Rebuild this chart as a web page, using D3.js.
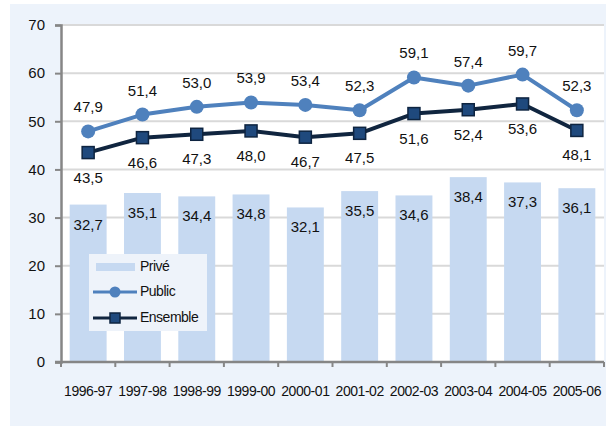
<!DOCTYPE html>
<html>
<head>
<meta charset="utf-8">
<script src="https://cdn.jsdelivr.net/npm/d3@7"></script>
<style>
  body { margin: 0; background: #fff; }
  svg { display: block; font-family: Arial, "Liberation Sans", sans-serif; }
</style>
</head>
<body>
<svg id="chart" width="606" height="427"></svg>
<script>
// data
var years = ["1996-97", "1997-98", "1998-99", "1999-00", "2000-01", "2001-02", "2002-03", "2003-04", "2004-05", "2005-06"];
var prive = [32.7, 35.1, 34.4, 34.8, 32.1, 35.5, 34.6, 38.4, 37.3, 36.1];
var publicVals = [47.9, 51.4, 53.0, 53.9, 53.4, 52.3, 59.1, 57.4, 59.7, 52.3];
var ensemble = [43.5, 46.6, 47.3, 48.0, 46.7, 47.5, 51.6, 52.4, 53.6, 48.1];
var yTicks = [0, 10, 20, 30, 40, 50, 60, 70];

var fmt = function(v) { return d3.format(".1f")(v).replace(".", ","); };

var svg = d3.select("#chart");

// panel background
svg.append("rect")
  .attr("x", 10).attr("y", 4)
  .attr("width", 596).attr("height", 422)
  .attr("fill", "#EDF3FB");

var plotL = 61, plotR = 604, plotT = 25, plotB = 362;

svg.append("rect")
  .attr("x", plotL).attr("y", plotT)
  .attr("width", plotR - plotL).attr("height", plotB - plotT)
  .attr("fill", "#fff");

var x = d3.scaleBand()
  .domain(years)
  .range([plotL, plotR])
  .paddingInner(0.32)
  .paddingOuter(0.16);

var xc = function(i) { return x(years[i]) + x.bandwidth() / 2; };

var y = d3.scaleLinear()
  .domain([0, 70])
  .range([plotB, plotT]);

// gridlines
svg.append("g")
  .selectAll("line")
  .data(yTicks.filter(function(d) { return d > 0; }))
  .enter()
  .append("line")
  .attr("x1", plotL).attr("x2", plotR)
  .attr("y1", function(d) { return y(d); })
  .attr("y2", function(d) { return y(d); })
  .attr("stroke", "#D9D9D9")
  .attr("stroke-width", 2);

// bars (Privé)
svg.append("g")
  .selectAll("rect")
  .data(prive)
  .enter()
  .append("rect")
  .attr("x", function(d, i) { return x(years[i]); })
  .attr("y", function(d) { return y(d); })
  .attr("width", x.bandwidth())
  .attr("height", function(d) { return plotB - y(d); })
  .attr("fill", "#C6D9F1");

svg.append("g")
  .selectAll("text")
  .data(prive)
  .enter()
  .append("text")
  .attr("x", function(d, i) { return xc(i); })
  .attr("y", function(d) { return y(d) + 21; })
  .attr("text-anchor", "middle")
  .attr("dominant-baseline", "middle")
  .attr("font-size", 15)
  .attr("fill", "#111")
  .text(fmt);

// y axis
var yAxis = svg.append("g")
  .attr("transform", "translate(" + plotL + ",0)")
  .call(d3.axisLeft(y).tickValues(yTicks).tickSize(6).tickPadding(10));
yAxis.select(".domain").attr("stroke", "#868686").attr("stroke-width", 2.5);
yAxis.selectAll(".tick line").attr("stroke", "#868686").attr("stroke-width", 2);
yAxis.selectAll(".tick text")
  .attr("font-size", 15)
  .attr("font-family", "Arial, 'Liberation Sans', sans-serif")
  .attr("fill", "#111");

// x axis
var xAxis = svg.append("g")
  .attr("transform", "translate(0," + plotB + ")")
  .call(d3.axisBottom(x).tickSize(0).tickPadding(24));
xAxis.select(".domain").remove();
xAxis.selectAll(".tick text")
  .attr("font-size", 14)
  .attr("letter-spacing", -0.45)
  .attr("font-family", "Arial, 'Liberation Sans', sans-serif")
  .attr("fill", "#111");

var boundaries = d3.range(years.length + 1).map(function(i) {
  return plotL + (plotR - plotL) * i / years.length;
});
svg.append("g")
  .selectAll("line")
  .data(boundaries)
  .enter()
  .append("line")
  .attr("x1", function(d) { return d; })
  .attr("x2", function(d) { return d; })
  .attr("y1", plotB).attr("y2", plotB + 5)
  .attr("stroke", "#868686")
  .attr("stroke-width", 2);
svg.append("line")
  .attr("x1", plotL - 6).attr("x2", plotR)
  .attr("y1", plotB).attr("y2", plotB)
  .attr("stroke", "#868686")
  .attr("stroke-width", 2.5);

var line = d3.line()
  .x(function(d, i) { return xc(i); })
  .y(function(d) { return y(d); });

// Public
svg.append("path")
  .datum(publicVals)
  .attr("d", line)
  .attr("fill", "none")
  .attr("stroke", "#4F81BD")
  .attr("stroke-width", 4)
  .attr("stroke-linejoin", "round");
svg.append("g")
  .selectAll("circle")
  .data(publicVals)
  .enter()
  .append("circle")
  .attr("cx", function(d, i) { return xc(i); })
  .attr("cy", function(d) { return y(d); })
  .attr("r", 7)
  .attr("fill", "#4F81BD");
svg.append("g")
  .selectAll("text")
  .data(publicVals)
  .enter()
  .append("text")
  .attr("x", function(d, i) { return xc(i); })
  .attr("y", function(d) { return y(d) - 23; })
  .attr("text-anchor", "middle")
  .attr("dominant-baseline", "middle")
  .attr("font-size", 15)
  .attr("fill", "#111")
  .text(fmt);

// Ensemble
svg.append("path")
  .datum(ensemble)
  .attr("d", line)
  .attr("fill", "none")
  .attr("stroke", "#10253F")
  .attr("stroke-width", 4)
  .attr("stroke-linejoin", "round");
svg.append("g")
  .selectAll("rect")
  .data(ensemble)
  .enter()
  .append("rect")
  .attr("x", function(d, i) { return xc(i) - 6; })
  .attr("y", function(d) { return y(d) - 6; })
  .attr("width", 12).attr("height", 12)
  .attr("fill", "#1F497D")
  .attr("stroke", "#0E2440")
  .attr("stroke-width", 1.5);
svg.append("g")
  .selectAll("text")
  .data(ensemble)
  .enter()
  .append("text")
  .attr("x", function(d, i) { return xc(i); })
  .attr("y", function(d) { return y(d) + 26; })
  .attr("text-anchor", "middle")
  .attr("dominant-baseline", "middle")
  .attr("font-size", 15)
  .attr("fill", "#111")
  .text(fmt);

// legend
var legend = svg.append("g");
legend.append("rect")
  .attr("x", 89).attr("y", 254)
  .attr("width", 118).attr("height", 77)
  .attr("fill", "#EEF3FA");

legend.append("rect")
  .attr("x", 96).attr("y", 263)
  .attr("width", 39).attr("height", 8)
  .attr("fill", "#C6D9F1");

legend.append("line")
  .attr("x1", 93).attr("x2", 137)
  .attr("y1", 292).attr("y2", 292)
  .attr("stroke", "#4F81BD").attr("stroke-width", 3);
legend.append("circle")
  .attr("cx", 115).attr("cy", 292).attr("r", 5.5)
  .attr("fill", "#4F81BD");

legend.append("line")
  .attr("x1", 93).attr("x2", 137)
  .attr("y1", 318).attr("y2", 318)
  .attr("stroke", "#10253F").attr("stroke-width", 3);
legend.append("rect")
  .attr("x", 110).attr("y", 313)
  .attr("width", 10).attr("height", 10)
  .attr("fill", "#1F497D")
  .attr("stroke", "#0E2440")
  .attr("stroke-width", 1.5);

legend.selectAll("text")
  .data(["Privé", "Public", "Ensemble"])
  .enter()
  .append("text")
  .attr("x", 140)
  .attr("y", function(d, i) { return [267, 292, 318][i]; })
  .attr("dominant-baseline", "middle")
  .attr("font-size", 14)
  .attr("letter-spacing", -0.5)
  .attr("fill", "#111")
  .text(function(d) { return d; });
</script>
</body>
</html>
